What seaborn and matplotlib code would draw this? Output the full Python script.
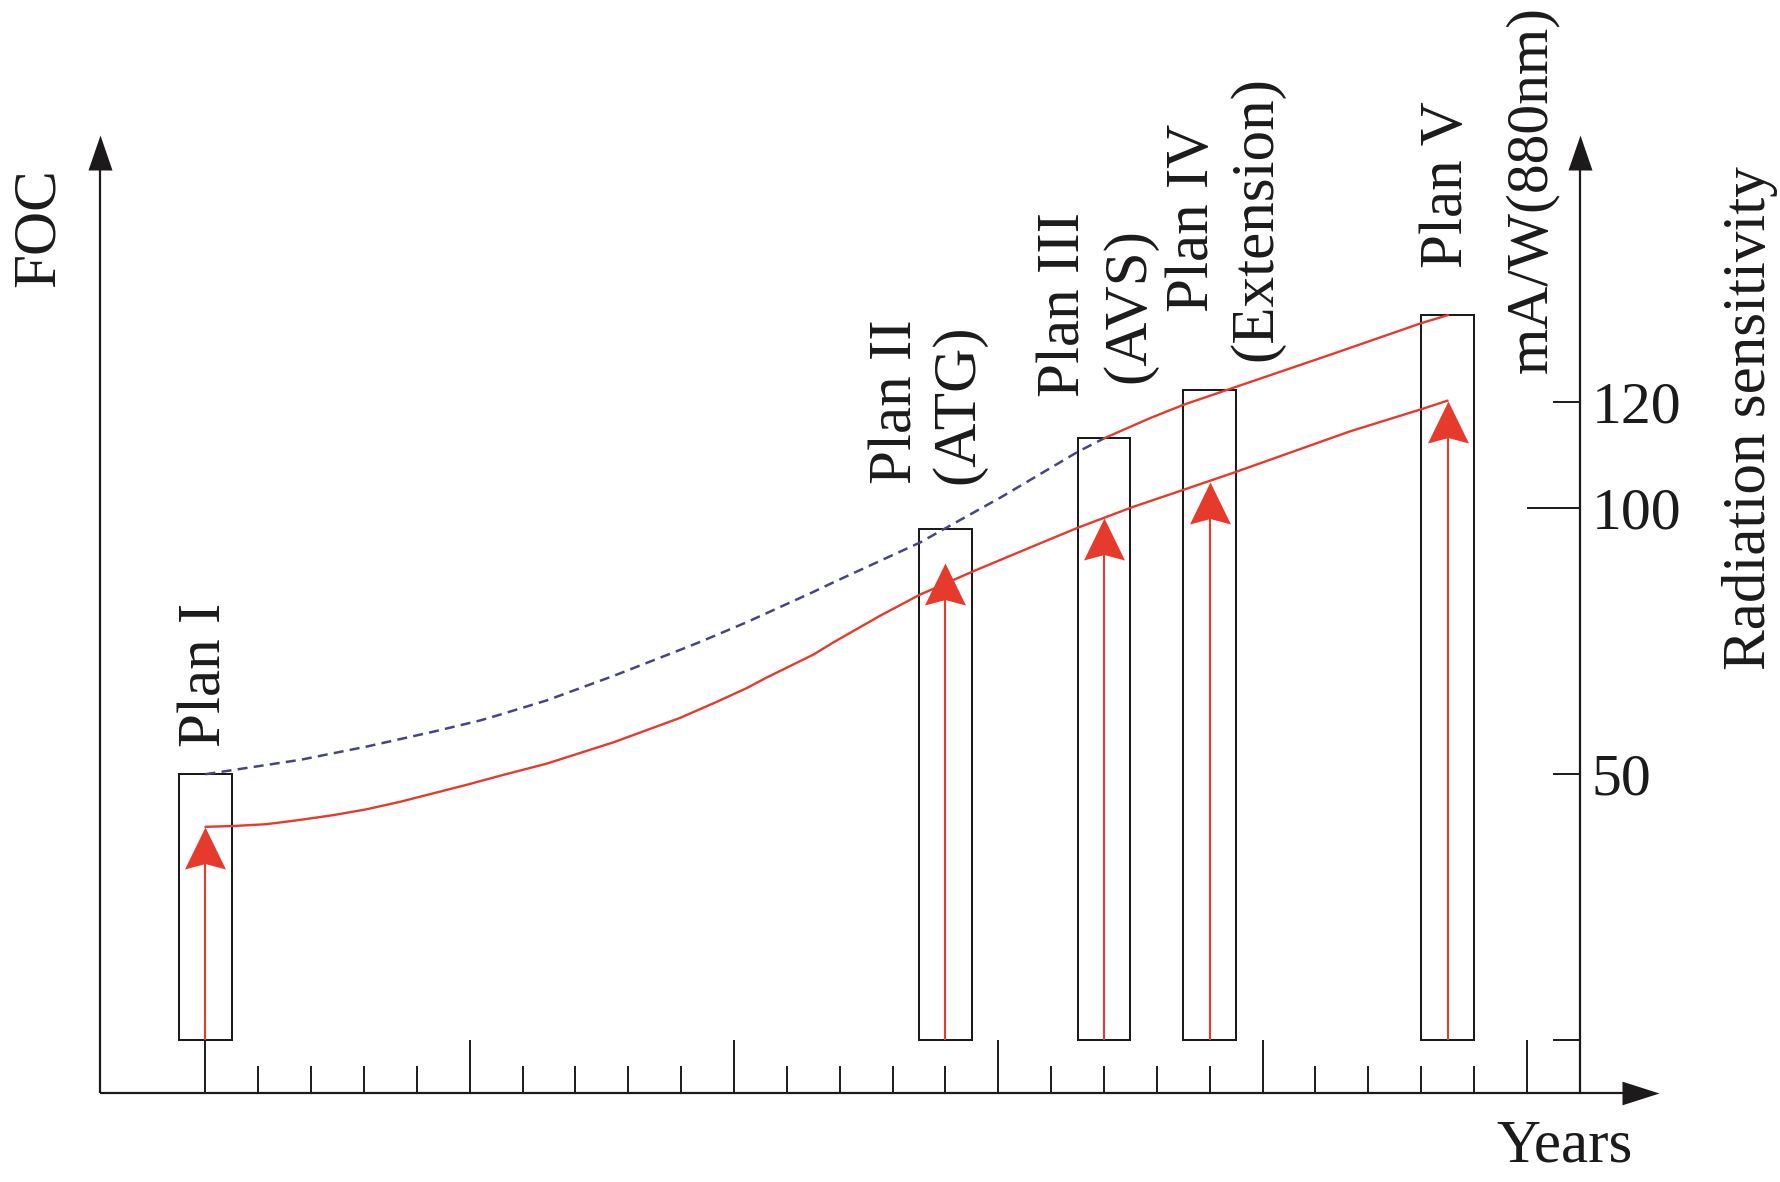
import matplotlib
matplotlib.use("Agg")
import matplotlib.pyplot as plt
import seaborn as sns
import numpy as np
import pandas as pd
from matplotlib.path import Path
from matplotlib.markers import MarkerStyle

# ---------------- data ----------------
plan_labels = ["Plan I", "Plan II", "Plan III", "Plan IV", "Plan V"]
plan_sublabels = ["", "(ATG)", "(AVS)", "(Extension)", ""]
plan_year = [0, 14, 17, 19, 23.5]            # position on the years axis (tick units)
plan_foc = [50, 96.1, 113.2, 122.3, 136.4]   # box heights
plan_sens = [40.1, 89.8, 98.2, 105.0, 120.3] # radiation sensitivity (arrow tips)

sens_curve_x = [0, 0.53, 1.16, 1.79, 2.42, 3.05, 3.68, 4.31, 4.94, 5.57,
                6.46, 7.72, 8.98, 9.67, 10.24, 10.62, 11.5, 11.88, 12.76, 13.14,
                13.52, 14.53, 15.66, 16.51, 17.52, 18.5, 19.5, 21.65, 23.01, 23.5]
sens_curve_y = [40.1, 40.25, 40.6, 41.4, 42.3, 43.4, 44.8, 46.4, 48.0, 49.7,
                52.0, 56.0, 60.6, 63.6, 66.2, 68.2, 72.5, 74.8, 79.8, 81.8,
                83.8, 88.2, 92.9, 96.4, 100.2, 103.5, 106.9, 114.5, 118.7, 120.3]

foc_dash_x = [0, 0.53, 1.79, 3.05, 4.31, 5.19, 5.57, 6.46, 7.72, 8.98,
              9.36, 10.24, 11.5, 11.88, 12.95, 13.52, 13.93, 15.03, 16.51, 17.0]
foc_dash_y = [50, 50.8, 52.7, 55.2, 58.0, 60.1, 61.2, 63.9, 68.5, 73.4,
              74.9, 78.6, 84.3, 86.1, 91.0, 93.6, 95.9, 102.0, 110.7, 113.2]

foc_solid_x = [17.0, 17.87, 18.5, 19.5, 21.3, 23.01, 23.51]
foc_solid_y = [113.2, 117.0, 119.5, 122.9, 129.0, 134.9, 136.4]

year_ticks = list(range(0, 26))
sens_ticks = [0, 50, 100, 120]
sens_tick_labels = ["", "50", "100", "120"]

# ---------------- style ----------------
sns.set_theme(style="white")
plt.rcParams["font.family"] = ["Liberation Serif", "DejaVu Serif"]

RED = "#E63A2D"
NAVY = "#45467F"
BLACK = "#1C1A1B"
FS = 44

fig = plt.figure(figsize=(17.8, 11.82), dpi=100)
ax = fig.add_axes([0, 0, 1, 1])
ax.set_xlim(-3.888, 29.79)
ax.set_ylim(-26.74, 195.69)
ax.axis("off")

# axes geometry (in data units)
X_LEFT, X_RIGHT, X_TIP = -2, 26, 27.5
Y_BASE, Y_TIP = -10, 170.3

# main axes lines
ax.plot([X_LEFT, X_LEFT], [Y_BASE, Y_TIP - 4], color=BLACK, lw=1.6, solid_capstyle="butt")
ax.plot([X_RIGHT, X_RIGHT], [Y_BASE, Y_TIP - 4], color=BLACK, lw=1.6, solid_capstyle="butt")
ax.plot([X_LEFT, X_TIP - 0.4], [Y_BASE, Y_BASE], color=BLACK, lw=1.6, solid_capstyle="butt")

up_head = MarkerStyle(Path([(0, 0), (0.343, -1), (-0.343, -1), (0, 0)],
                           [Path.MOVETO, Path.LINETO, Path.LINETO, Path.CLOSEPOLY]))
right_head = MarkerStyle(Path([(0, 0), (-1, 0.32), (-1, -0.32), (0, 0)],
                              [Path.MOVETO, Path.LINETO, Path.LINETO, Path.CLOSEPOLY]))
ax.plot([X_LEFT, X_RIGHT], [Y_TIP, Y_TIP], ls="none", marker=up_head, ms=50.4,
        color=BLACK, mew=0)
ax.plot([X_TIP], [Y_BASE], ls="none", marker=right_head, ms=53.3, color=BLACK, mew=0)

# bottom ticks
for k in year_ticks:
    top = 0 if k % 5 == 0 else -5
    ax.plot([k, k], [Y_BASE, top], color=BLACK, lw=1.4, solid_capstyle="butt")

# right axis ticks and labels
for v, lab in zip(sens_ticks, sens_tick_labels):
    x0 = X_RIGHT - (1.0 if v == 100 else 0.5)
    ax.plot([x0, X_RIGHT], [v, v], color=BLACK, lw=1.4, solid_capstyle="butt")
    if lab:
        ax.text(26.23, v - 3.8, lab, fontsize=FS - 1, ha="left", va="baseline",
                color=BLACK)

# boxes
ax.bar(plan_year, plan_foc, width=1.0, bottom=0, fill=False, edgecolor=BLACK,
       linewidth=1.45, zorder=2)

# curves
sns.lineplot(x=foc_dash_x, y=foc_dash_y, ax=ax, color=NAVY, linewidth=1.8,
             linestyle=(0, (4.0, 2.5)), sort=False, estimator=None, zorder=3)
sns.lineplot(x=foc_solid_x, y=foc_solid_y, ax=ax, color=RED, linewidth=1.7,
             sort=False, estimator=None, zorder=3)
sns.lineplot(x=sens_curve_x, y=sens_curve_y, ax=ax, color=RED, linewidth=1.7,
             sort=False, estimator=None, zorder=3)

# red arrows
ax.vlines(plan_year, 0, np.array(plan_sens) - 3, color=RED, lw=1.5, zorder=4)
red_head = MarkerStyle(Path([(0, 0), (0.488, -1), (0, -0.87), (-0.488, -1), (0, 0)],
                            [Path.MOVETO, Path.LINETO, Path.LINETO, Path.LINETO,
                             Path.CLOSEPOLY]))
ax.plot(plan_year, plan_sens, ls="none", marker=red_head, ms=60.5, color=RED,
        mew=0, zorder=5)

# rotated labels: (x, y) = baseline start point
rot_kw = dict(rotation=90, rotation_mode="anchor", ha="left", va="baseline",
              fontsize=FS, color=BLACK)
label_pos = [(0.288, 55.2), (13.35, 104.7), (16.54, 121.0), (18.96, 136.9), (23.78, 145.3)]
sub_pos = [None, (14.53, 104.7), (17.77, 123.6), (20.16, 127.8), None]
for lab, pos in zip(plan_labels, label_pos):
    ax.text(pos[0], pos[1], lab, **rot_kw)
for lab, pos in zip(plan_sublabels, sub_pos):
    if lab:
        ax.text(pos[0], pos[1], lab, **rot_kw)

ax.text(-2.88, 141.6, "FOC", **rot_kw)
ax.text(25.36, 125.5, "mA/W(880nm)", **{**rot_kw, "fontsize": 42.8})
ax.text(29.51, 69.6, "Radiation sensitivity", **rot_kw)
ax.text(24.42, -22.8, "Years", fontsize=FS, ha="left", va="baseline", color=BLACK)

fig.savefig("out.png", dpi=100, facecolor="white")
